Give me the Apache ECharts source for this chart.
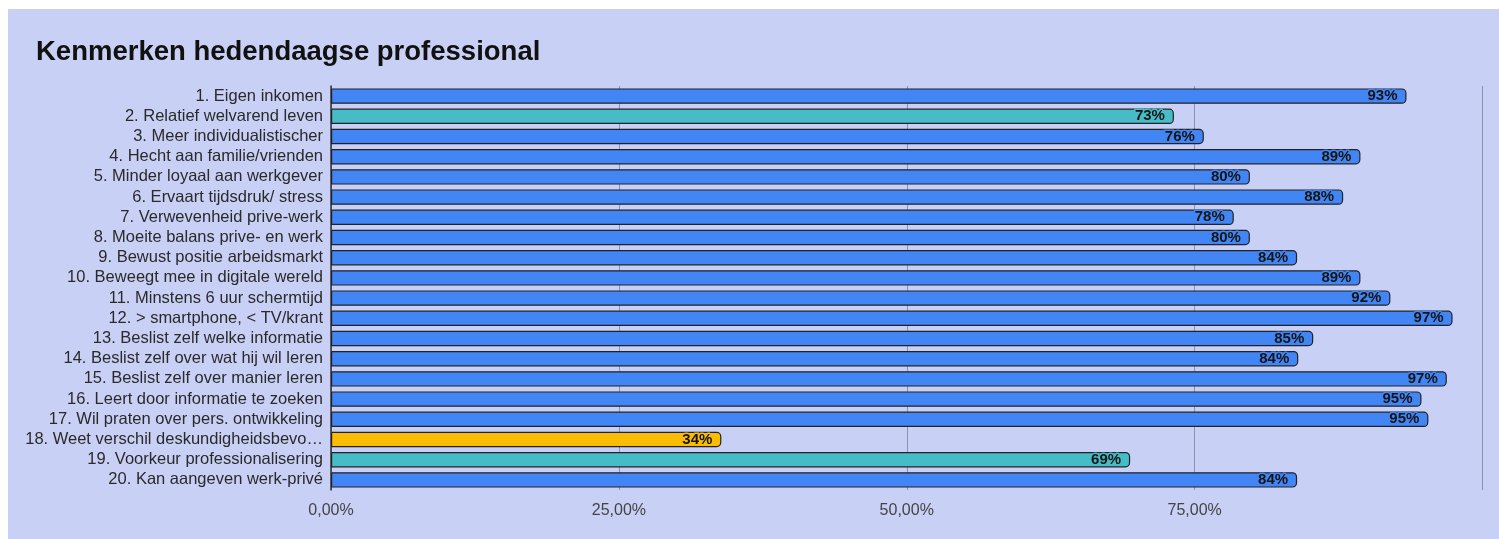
<!DOCTYPE html>
<html>
<head>
<meta charset="utf-8">
<title>Kenmerken hedendaagse professional</title>
<script src="https://cdn.jsdelivr.net/npm/echarts@6/dist/echarts.min.js"></script>
<style>
  html, body { margin: 0; padding: 0; background: #ffffff; }
  #chart { position: absolute; left: 8px; top: 9px; width: 1491px; height: 530px; background: #c9d0f5; }
</style>
</head>
<body>
<div id="chart"></div>
<script>
// Kenmerken, van boven naar beneden
const categories = [
  '1. Eigen inkomen',
  '2. Relatief welvarend leven',
  '3. Meer individualistischer',
  '4. Hecht aan familie/vrienden',
  '5. Minder loyaal aan werkgever',
  '6. Ervaart tijdsdruk/ stress',
  '7. Verwevenheid prive-werk',
  '8. Moeite balans prive- en werk',
  '9. Bewust positie arbeidsmarkt',
  '10. Beweegt mee in digitale wereld',
  '11. Minstens 6 uur schermtijd',
  '12. > smartphone, < TV/krant',
  '13. Beslist zelf welke informatie',
  '14. Beslist zelf over wat hij wil leren',
  '15. Beslist zelf over manier leren',
  '16. Leert door informatie te zoeken',
  '17. Wil praten over pers. ontwikkeling',
  '18. Weet verschil deskundigheidsbevordering en professionalisering',
  '19. Voorkeur professionalisering',
  '20. Kan aangeven werk-privé'
];

// Percentage per kenmerk
const values = [93.4, 73.2, 75.8, 89.4, 79.8, 87.9, 78.4, 79.8, 83.9, 89.4,
                92.0, 97.4, 85.3, 84.0, 96.9, 94.7, 95.3, 33.9, 69.4, 83.9];

// Kleurgroep per kenmerk
const groups = ['b','t','b','b','b','b','b','b','b','b',
                'b','b','b','b','b','b','b','y','t','b'];

const xTicks = [0, 25, 50, 75, 100];

const palette = { b: '#4285f4', t: '#46bdc6', y: '#fbbc04' };

const chart = echarts.init(document.getElementById('chart'));

const seriesData = values.map((v, i) => {
  const c = palette[groups[i]];
  return {
    value: v,
    itemStyle: { color: c },
    label: { textBorderColor: c }
  };
});

chart.setOption({
  backgroundColor: '#c9d0f5',
  animation: false,
  title: {
    text: 'Kenmerken hedendaagse professional',
    left: 23,
    top: 24,
    textStyle: {
      fontFamily: 'Liberation Sans, Arial, sans-serif',
      fontSize: 27.5,
      fontWeight: 'bold',
      color: '#111111'
    }
  },
  grid: { left: 323, right: 16.5, top: 77, bottom: 49, containLabel: false },
  xAxis: {
    type: 'value',
    min: xTicks[0],
    max: xTicks[xTicks.length - 1],
    interval: 25,
    axisLine: { show: false },
    axisTick: { show: false },
    splitLine: { show: true, lineStyle: { color: '#8e92a6', width: 1 } },
    axisLabel: {
      showMaxLabel: false,
      margin: 13,
      fontFamily: 'Liberation Sans, Arial, sans-serif',
      fontSize: 16,
      color: '#444444',
      formatter: v => v.toFixed(2).replace('.', ',') + '%'
    }
  },
  yAxis: {
    type: 'category',
    data: categories,
    inverse: true,
    axisLine: { show: true, lineStyle: { color: '#333333', width: 1.5 } },
    axisTick: { show: false },
    axisLabel: {
      interval: 0,
      hideOverlap: false,
      margin: 8,
      width: 301,
      overflow: 'truncate',
      ellipsis: '…',
      lineHeight: 18,
      fontFamily: 'Liberation Sans, Arial, sans-serif',
      fontSize: 16.5,
      color: '#2a2a2a'
    }
  },
  series: [{
    type: 'bar',
    data: seriesData,
    barCategoryGap: '24%',
    itemStyle: {
      borderColor: '#222222',
      borderWidth: 1.2,
      borderRadius: [0, 4, 4, 0]
    },
    label: {
      show: true,
      position: 'insideRight',
      distance: 9,
      fontFamily: 'Liberation Sans, Arial, sans-serif',
      fontSize: 15,
      fontWeight: 'bold',
      color: '#151515',
      textBorderWidth: 3,
      formatter: p => Math.round(p.value) + '%'
    }
  }]
});
</script>
</body>
</html>
